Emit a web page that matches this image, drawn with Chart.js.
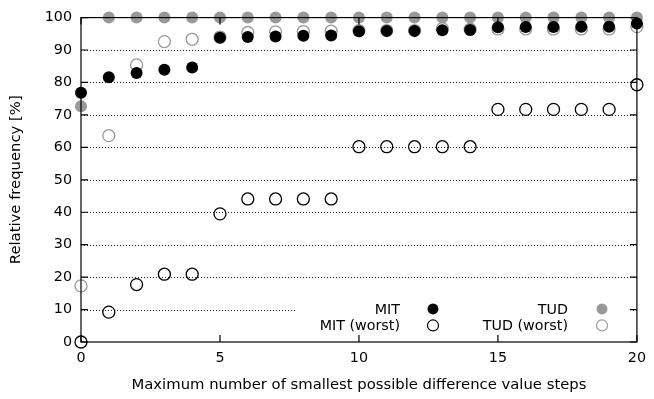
<!DOCTYPE html>
<html>
<head>
<meta charset="utf-8">
<script src="https://cdn.jsdelivr.net/npm/chart.js@4/dist/chart.umd.min.js"></script>
<style>
  html, body { margin: 0; padding: 0; background: #fff; }
  #wrap { width: 654px; height: 399px; position: relative; }
</style>
</head>
<body>
<div id="wrap"><canvas id="c"></canvas></div>
<script>
// step counts on the x axis
const steps = [0, 1, 2, 3, 4, 5, 6, 7, 8, 9, 10, 11, 12, 13, 14, 15, 16, 17, 18, 19, 20];

// relative frequency in %
const mit = [76.8, 81.6, 82.9, 83.9, 84.6, 93.8, 94.0, 94.2, 94.4, 94.5, 95.8, 95.9, 95.9, 96.1, 96.2, 97.0, 97.1, 97.1, 97.2, 97.2, 98.2];
const mitWorst = [0, 9.2, 17.7, 20.9, 20.9, 39.5, 44.1, 44.1, 44.1, 44.1, 60.2, 60.2, 60.2, 60.2, 60.2, 71.7, 71.7, 71.7, 71.7, 71.7, 79.3];
const tud = [72.7, 100, 100, 100, 100, 100, 100, 100, 100, 100, 100, 100, 100, 100, 100, 100, 100, 100, 100, 100, 100];
const tudWorst = [17.3, 63.6, 85.4, 92.6, 93.3, 94.0, 95.4, 95.6, 95.7, 95.8, 96.0, 96.0, 96.0, 96.6, 96.4, 96.5, 96.5, 96.5, 96.5, 96.5, 97.2];

const yTicks = [0, 10, 20, 30, 40, 50, 60, 70, 80, 90, 100];
const xTicks = [0, 5, 10, 15, 20];

const FONT = "'DejaVu Sans', sans-serif";
const TICK_SIZE = 14.3;
const TITLE_SIZE = 14.8;
const GRAY = '#999999';

const pts = (vals) => vals.map((v, i) => ({ x: steps[i], y: v }));

// gnuplot-ish frame: dotted horizontal grid, inward ticks, frame on top of points
const framePlugin = {
  id: 'frame',
  beforeDatasetsDraw(chart) {
    const { ctx, chartArea: a, scales: { y } } = chart;
    ctx.save();
    ctx.strokeStyle = '#222';
    ctx.lineWidth = 1;
    ctx.setLineDash([1, 2]);
    yTicks.slice(1, -1).forEach(t => {
      const py = Math.round(y.getPixelForValue(t)) + 0.5;
      ctx.beginPath();
      ctx.moveTo(a.left, py);
      ctx.lineTo(a.right, py);
      ctx.stroke();
    });
    ctx.restore();
  },
  afterDatasetsDraw(chart) {
    const { ctx, chartArea: a, scales: { x, y } } = chart;
    ctx.save();
    // legend box hides the grid behind it
    ctx.fillStyle = '#fff';
    ctx.fillRect(a.left + 215, y.getPixelForValue(12.8), 337, 34);

    ctx.strokeStyle = '#000';
    ctx.lineWidth = 1.2;
    ctx.setLineDash([]);
    const tl = 7;
    ctx.beginPath();
    yTicks.forEach(t => {
      const py = y.getPixelForValue(t);
      ctx.moveTo(a.left, py); ctx.lineTo(a.left + tl, py);
      ctx.moveTo(a.right, py); ctx.lineTo(a.right - tl, py);
    });
    xTicks.forEach(t => {
      const px = x.getPixelForValue(t);
      ctx.moveTo(px, a.bottom); ctx.lineTo(px, a.bottom - tl);
      ctx.moveTo(px, a.top); ctx.lineTo(px, a.top + tl);
    });
    ctx.stroke();
    ctx.strokeRect(a.left, a.top, a.right - a.left, a.bottom - a.top);

    // legend: text right-aligned, marker to the right
    ctx.font = TICK_SIZE + 'px ' + FONT;
    ctx.textAlign = 'right';
    ctx.textBaseline = 'middle';
    const rows = [y.getPixelForValue(10.2), y.getPixelForValue(5.1)];
    const cols = [{ tx: a.left + 319, mx: a.left + 352 }, { tx: a.left + 487, mx: a.left + 521 }];
    const items = [
      { label: 'MIT', col: 0, row: 0, fill: '#000', stroke: '#000' },
      { label: 'MIT (worst)', col: 0, row: 1, fill: null, stroke: '#000' },
      { label: 'TUD', col: 1, row: 0, fill: GRAY, stroke: GRAY },
      { label: 'TUD (worst)', col: 1, row: 1, fill: null, stroke: GRAY }
    ];
    items.forEach(it => {
      const c = cols[it.col], r = rows[it.row];
      ctx.fillStyle = '#000';
      ctx.fillText(it.label, c.tx, r + 1);
      ctx.beginPath();
      ctx.arc(c.mx, r, 5.5, 0, Math.PI * 2);
      if (it.fill) { ctx.fillStyle = it.fill; ctx.fill(); }
      else { ctx.strokeStyle = it.stroke; ctx.lineWidth = 1.2; ctx.stroke(); }
    });
    ctx.restore();
  }
};

new Chart(document.getElementById('c'), {
  type: 'scatter',
  data: {
    datasets: [
      { label: 'MIT', data: pts(mit), order: 0, pointRadius: 6, pointBackgroundColor: '#000', pointBorderColor: '#000', pointBorderWidth: 0, clip: false },
      { label: 'MIT (worst)', data: pts(mitWorst), order: 1, pointRadius: 6, pointBackgroundColor: 'rgba(0,0,0,0)', pointBorderColor: '#000', pointBorderWidth: 1.3, clip: false },
      { label: 'TUD', data: pts(tud), order: 2, pointRadius: 6, pointBackgroundColor: GRAY, pointBorderColor: GRAY, pointBorderWidth: 0, clip: false },
      { label: 'TUD (worst)', data: pts(tudWorst), order: 3, pointRadius: 6, pointBackgroundColor: 'rgba(0,0,0,0)', pointBorderColor: GRAY, pointBorderWidth: 1.3, clip: false }
    ]
  },
  options: {
    responsive: true,
    maintainAspectRatio: false,
    animation: false,
    layout: { padding: { left: 0, right: 11, top: 14, bottom: 0 } },
    plugins: { legend: { display: false }, tooltip: { enabled: false } },
    scales: {
      x: {
        type: 'linear', min: 0, max: 20,
        afterBuildTicks: (s) => { s.ticks = xTicks.map(v => ({ value: v })); },
        afterFit: (s) => { s.height = 57; },
        grid: { display: false, drawTicks: false },
        border: { display: false },
        ticks: { color: '#000', font: { family: FONT, size: TICK_SIZE }, padding: 8, maxRotation: 0 },
        title: { display: true, text: 'Maximum number of smallest possible difference value steps', color: '#000', font: { family: FONT, size: TITLE_SIZE }, padding: { top: 0, bottom: 5 } }
      },
      y: {
        type: 'linear', min: 0, max: 100,
        afterBuildTicks: (s) => { s.ticks = yTicks.map(v => ({ value: v })); },
        afterFit: (s) => { s.width = 81; },
        grid: { display: false, drawTicks: false },
        border: { display: false },
        ticks: { color: '#000', font: { family: FONT, size: TICK_SIZE }, padding: 9 },
        title: { display: true, text: 'Relative frequency [%]', color: '#000', font: { family: FONT, size: TITLE_SIZE }, padding: { top: 7, bottom: 0 } }
      }
    }
  },
  plugins: [framePlugin]
});
</script>
</body>
</html>
